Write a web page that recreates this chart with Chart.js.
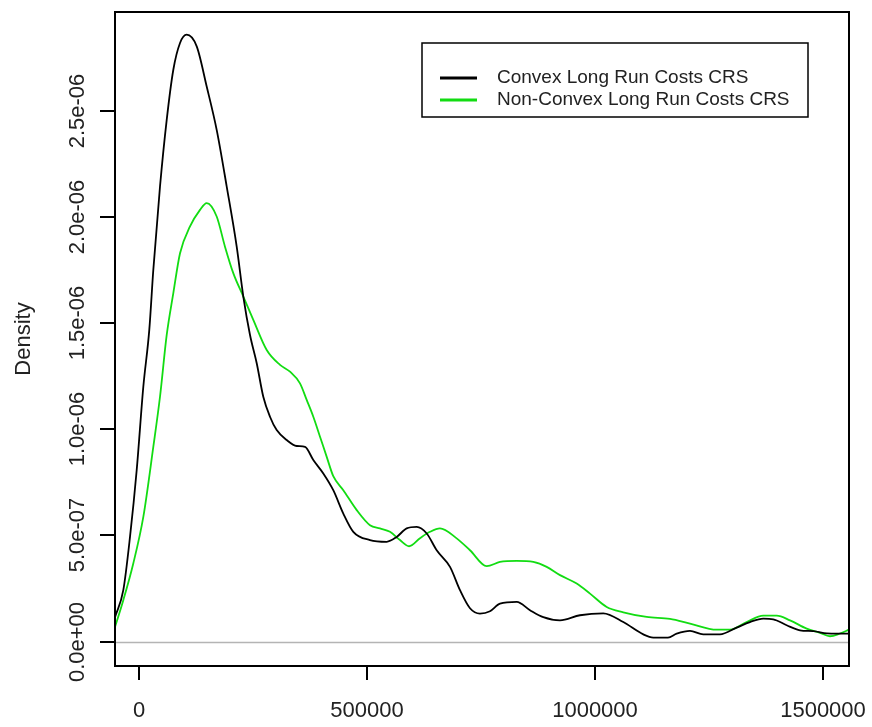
<!DOCTYPE html>
<html>
<head>
<meta charset="utf-8">
<title>Density of long run costs</title>
<script src="https://cdn.jsdelivr.net/npm/chart.js@4.4.1/dist/chart.umd.min.js"></script>
<style>
  html, body { margin: 0; padding: 0; background: #ffffff; }
  #wrap { width: 872px; height: 727px; }
</style>
</head>
<body>
<div id="wrap"><canvas id="c" width="872" height="727"></canvas></div>
<script>
// Kernel density estimates, sampled along the cost axis
const convexX = [-53300, -35100, -20400, -5700, 8800, 21900, 30700, 45400, 60100, 74600, 89300, 103900,
  125900, 147800, 169700, 191700, 213600, 228100, 242800, 257500, 271900, 286600, 301300, 323200, 345200,
  363400, 381600, 403500, 425400, 447400, 469300, 505900, 542500, 564500, 586400, 608300, 630300, 652200,
  681400, 703300, 725200, 747100, 769100, 791000, 827700, 856800, 886000, 922600, 966400, 1017500, 1061400,
  1105300, 1127200, 1159400, 1178500, 1207700, 1236800, 1273500, 1310100, 1339200, 1368400, 1390300,
  1419700, 1448900, 1478000, 1507500, 1529400, 1556400];
const convexY = [1.15e-7, 2.42e-7, 4.93e-7, 8.08e-7, 1.20e-6, 1.468e-6, 1.75e-6, 2.143e-6, 2.457e-6, 2.693e-6, 2.819e-6, 2.858e-6,
  2.803e-6, 2.614e-6, 2.410e-6, 2.143e-6, 1.860e-6, 1.625e-6, 1.444e-6, 1.311e-6, 1.153e-6, 1.059e-6, 9.96e-7, 9.49e-7, 9.21e-7,
  9.17e-7, 8.55e-7, 7.92e-7, 7.13e-7, 6.03e-7, 5.17e-7, 4.78e-7, 4.70e-7, 4.93e-7, 5.33e-7, 5.40e-7, 5.09e-7, 4.30e-7,
  3.52e-7, 2.42e-7, 1.57e-7, 1.32e-7, 1.43e-7, 1.79e-7, 1.87e-7, 1.48e-7, 1.15e-7, 1.00e-7, 1.24e-7, 1.33e-7, 9.2e-8,
  3.4e-8, 1.9e-8, 1.9e-8, 3.7e-8, 5.0e-8, 3.4e-8, 3.4e-8, 6.6e-8, 9.2e-8, 1.08e-7, 1.05e-7,
  7.7e-8, 5.3e-8, 4.9e-8, 3.9e-8, 3.7e-8, 3.7e-8];

const nonConvexX = [-53300, -35100, -13200, 8800, 30700, 45400, 60100, 74600, 89300, 111200, 133100, 147800,
  169700, 187900, 206100, 228100, 250000, 279400, 308600, 330500, 352400, 367100, 381600, 396300, 411000,
  425400, 447400, 476800, 505900, 527800, 549800, 571700, 591500, 615600, 637500, 659400, 696000, 725200,
  761800, 791000, 827700, 864100, 893400, 922600, 959200, 988400, 1025000, 1061400, 1112700, 1163800,
  1207700, 1266200, 1295400, 1332000, 1368400, 1397800, 1427000, 1463600, 1492800, 1514700, 1536600, 1556400];
const nonConvexY = [6.9e-8, 1.95e-7, 3.68e-7, 5.87e-7, 9.17e-7, 1.153e-6, 1.444e-6, 1.641e-6, 1.829e-6, 1.955e-6, 2.033e-6, 2.065e-6,
  2.002e-6, 1.860e-6, 1.735e-6, 1.625e-6, 1.515e-6, 1.373e-6, 1.303e-6, 1.271e-6, 1.216e-6, 1.138e-6, 1.059e-6, 9.65e-7, 8.70e-7,
  7.79e-7, 7.13e-7, 6.19e-7, 5.48e-7, 5.33e-7, 5.17e-7, 4.78e-7, 4.49e-7, 4.87e-7, 5.17e-7, 5.33e-7, 4.86e-7, 4.30e-7,
  3.55e-7, 3.75e-7, 3.80e-7, 3.75e-7, 3.52e-7, 3.13e-7, 2.73e-7, 2.26e-7, 1.63e-7, 1.38e-7, 1.16e-7, 1.07e-7,
  8.5e-8, 5.6e-8, 5.6e-8, 9.2e-8, 1.22e-7, 1.22e-7, 1.00e-7, 6.1e-8, 4.1e-8, 2.5e-8, 3.8e-8, 5.6e-8];

const seriesNames = ["Convex Long Run Costs CRS", "Non-Convex Long Run Costs CRS"];
const xTicks = [0, 500000, 1000000, 1500000];
const xTickLabels = ["0", "500000", "1000000", "1500000"];
const yTicks = [0, 5e-7, 1e-6, 1.5e-6, 2e-6, 2.5e-6];
const yTickLabels = ["0.0e+00", "5.0e-07", "1.0e-06", "1.5e-06", "2.0e-06", "2.5e-06"];
const yTitle = "Density";

const BLACK = "#000000";
const GREEN = "#12dc12";
const FONT = '"Liberation Sans", Arial, sans-serif';

function toPoints(xs, ys) {
  return xs.map((x, i) => ({ x: x, y: ys[i] }));
}

// Base-graphics style frame: box, outward ticks, rotated y labels, zero line, legend
const framePlugin = {
  id: 'frame',
  beforeDatasetsDraw(chart) {
    const { ctx, chartArea: a, scales } = chart;
    const y0 = Math.round(scales.y.getPixelForValue(0)) + 0.5;
    ctx.save();
    ctx.strokeStyle = "#b4b4b4";
    ctx.lineWidth = 1.5;
    ctx.beginPath();
    ctx.moveTo(a.left, y0);
    ctx.lineTo(a.right, y0);
    ctx.stroke();
    ctx.restore();
  },
  afterDraw(chart) {
    const { ctx, chartArea: a, scales } = chart;
    ctx.save();
    ctx.strokeStyle = "#000";
    ctx.lineWidth = 2;
    ctx.strokeRect(a.left, a.top, a.right - a.left, a.bottom - a.top);

    ctx.fillStyle = "#222";
    ctx.font = "22px " + FONT;

    // x axis
    ctx.textAlign = "center";
    ctx.textBaseline = "middle";
    xTicks.forEach((v, i) => {
      const px = Math.round(scales.x.getPixelForValue(v));
      ctx.beginPath();
      ctx.moveTo(px, a.bottom);
      ctx.lineTo(px, a.bottom + 14);
      ctx.stroke();
      ctx.fillText(xTickLabels[i], px, 711);
    });

    // y axis
    yTicks.forEach((v, i) => {
      const py = Math.round(scales.y.getPixelForValue(v));
      ctx.beginPath();
      ctx.moveTo(a.left, py);
      ctx.lineTo(a.left - 15, py);
      ctx.stroke();
      ctx.save();
      ctx.translate(78, py);
      ctx.rotate(-Math.PI / 2);
      ctx.fillText(yTickLabels[i], 0, 0);
      ctx.restore();
    });

    ctx.save();
    ctx.translate(24, (a.top + a.bottom) / 2);
    ctx.rotate(-Math.PI / 2);
    ctx.fillText(yTitle, 0, 0);
    ctx.restore();

    // legend
    const lx = 422, ly = 43, lw = 386, lh = 74;
    ctx.fillStyle = "#fff";
    ctx.fillRect(lx, ly, lw, lh);
    ctx.lineWidth = 1.5;
    ctx.strokeStyle = "#000";
    ctx.strokeRect(lx, ly, lw, lh);
    const rows = [78, 100];
    const cols = [BLACK, GREEN];
    ctx.font = "19px " + FONT;
    ctx.textAlign = "left";
    rows.forEach((ry, i) => {
      ctx.strokeStyle = cols[i];
      ctx.lineWidth = 3;
      ctx.beginPath();
      ctx.moveTo(440, ry);
      ctx.lineTo(477, ry);
      ctx.stroke();
      ctx.fillStyle = "#222";
      ctx.fillText(seriesNames[i], 497, ry);
    });
    ctx.restore();
  }
};

new Chart(document.getElementById('c'), {
  type: 'line',
  data: {
    datasets: [
      {
        label: seriesNames[0],
        data: toPoints(convexX, convexY),
        borderColor: BLACK,
        borderWidth: 1.8,
        pointRadius: 0,
        cubicInterpolationMode: 'monotone',
        fill: false
      },
      {
        label: seriesNames[1],
        data: toPoints(nonConvexX, nonConvexY),
        borderColor: GREEN,
        borderWidth: 1.8,
        pointRadius: 0,
        cubicInterpolationMode: 'monotone',
        fill: false
      }
    ]
  },
  options: {
    responsive: false,
    devicePixelRatio: 1,
    animation: false,
    layout: { padding: { left: 115, top: 12, right: 23, bottom: 61 } },
    plugins: { legend: { display: false }, tooltip: { enabled: false }, title: { display: false } },
    scales: {
      x: { type: 'linear', min: -53300, max: 1556400, display: false },
      y: { type: 'linear', min: -1.15e-7, max: 2.965e-6, display: false }
    }
  },
  plugins: [framePlugin]
});
</script>
</body>
</html>
